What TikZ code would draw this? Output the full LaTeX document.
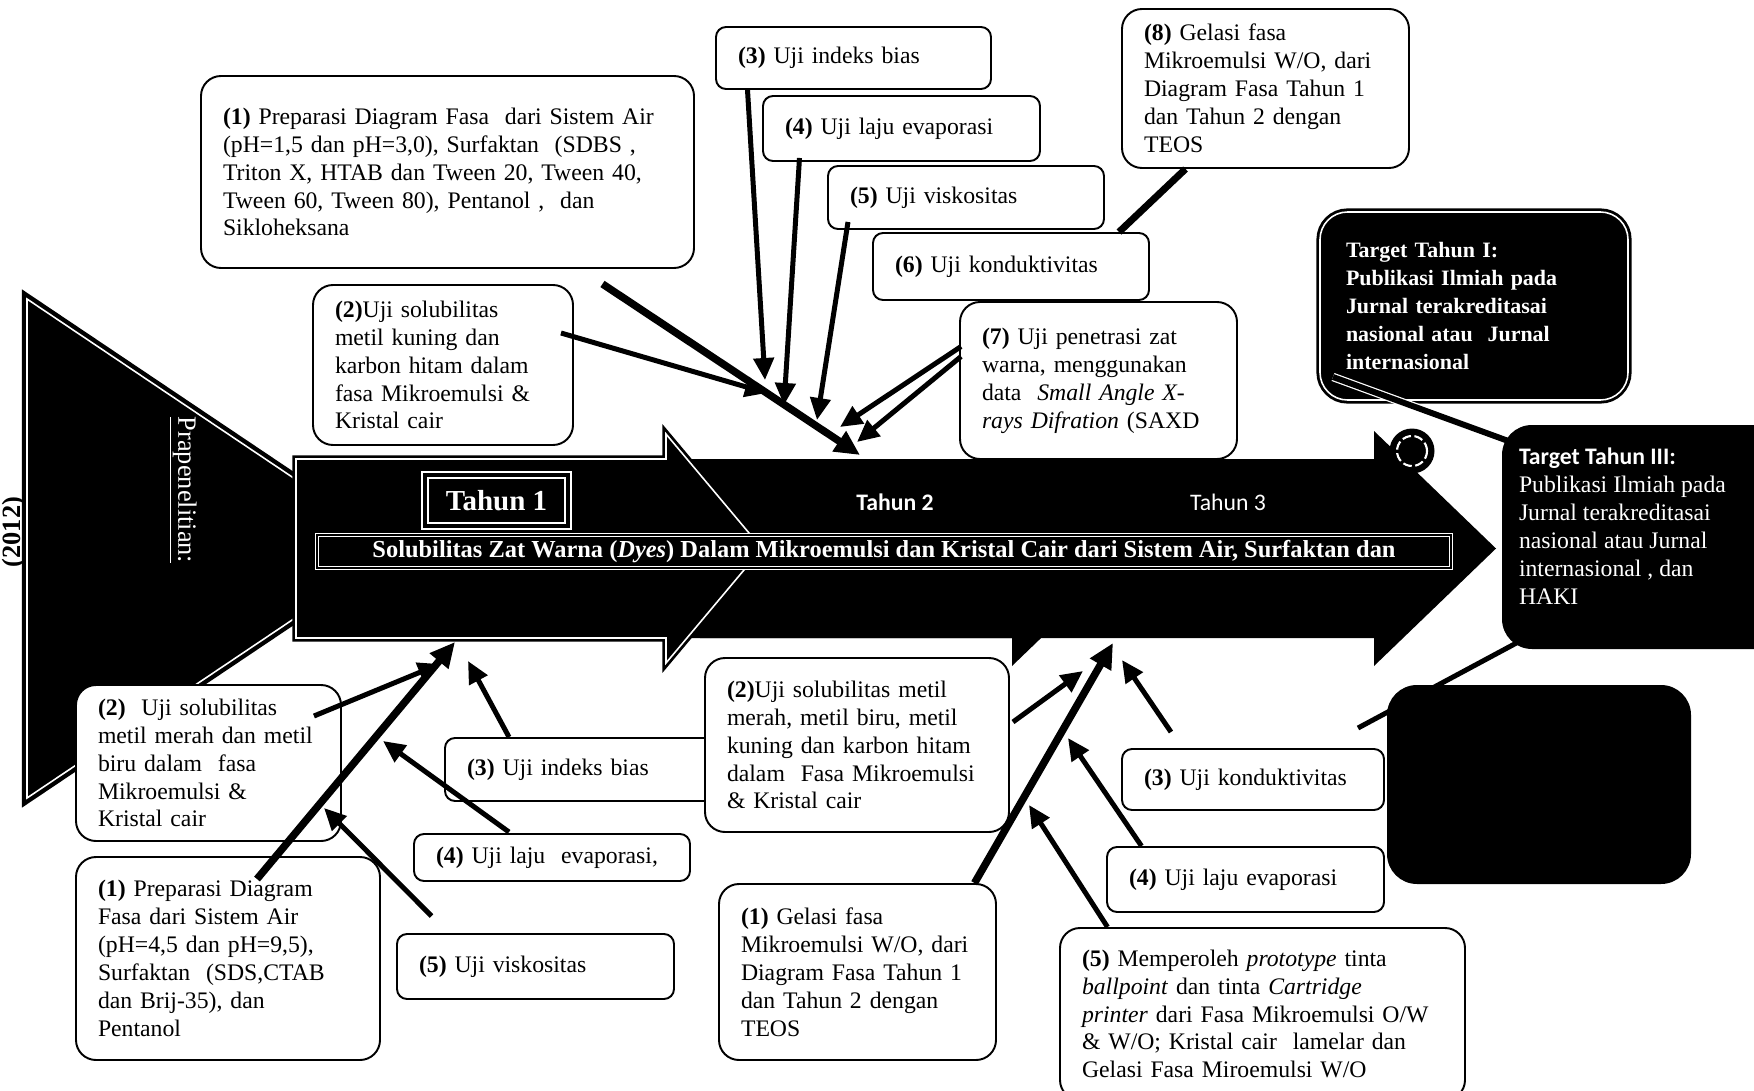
\documentclass[tikz,border=0pt]{standalone}
\usepackage{fontspec}
\setmainfont{Liberation Serif}
\newfontfamily\sanscal{Carlito}
\usepackage{tikz}
\usetikzlibrary{arrows.meta,calc}

\tikzset{
  kotak/.style={draw, line width=1.1pt, fill=white, rounded corners=0.4cm, align=left,
    inner xsep=0.44cm, inner ysep=0.1cm, font=\fontsize{13.5}{15.9}\selectfont},
  kecil/.style={kotak, rounded corners=0.2cm},
  ukuran/.style 2 args={minimum width=#1*0.02cm, minimum height=#2*0.02cm, text width={(#1-44)*0.02cm}},
  panah/.style={line width=0.1cm, -{Triangle[length=0.44cm,width=0.4cm]}},
  panahtebal/.style={line width=0.15cm, -{Triangle[length=0.5cm,width=0.46cm]}},
  tepiputih/.style={fill=black, draw=black, double=white, double distance=0.9pt, line width=1.6pt},
}

\begin{document}
\begin{tikzpicture}[x=0.02cm, y=-0.02cm]
\useasboundingbox (0,0) rectangle (1754,1091);
%ukuran dalam piksel gambar asli (1754 x 1091), sumbu y ke bawah
  \pgfmathsetmacro{\atas}{459}
  \pgfmathsetmacro{\bawah}{638}
  \pgfmathsetmacro{\tengah}{(\atas+\bawah)/2}

%Prapenelitian
\draw[tepiputih, line width=2.5pt] (27,299) -- (310,489) -- (310,608) -- (27,798) -- cycle;
\node[text=white, rotate=-90, font=\fontsize{15}{18}\selectfont] (prapen) at (183,490) {\underline{Prapenelitian:}};
\node[rotate=90, font=\bfseries\fontsize{15}{18}\selectfont] (thn0) at (14,532) {(2012)};

%panah tahun 3 dan tahun 2, lalu tahun 1 dengan garis putih
\foreach \kepala/\ujung/\ekor in {1374/1496/296, 1012/1134/700}{
\fill[black] (\ekor,\atas) -- (\kepala,\atas) -- (\kepala,431) -- (\ujung,\tengah) -- (\kepala,666) -- (\kepala,\bawah) -- (\ekor,\bawah) -- cycle;
}
\draw[tepiputih] (296,\atas) -- (666,\atas) -- (666,434) -- (762,\tengah) -- (666,663) -- (666,\bawah) -- (296,\bawah) -- cycle;

\node[draw=white, double=black, double distance=2pt, line width=1pt, minimum width=143*0.02cm, minimum height=51*0.02cm,
  text=white, font=\bfseries\fontsize{16.5}{18}\selectfont] (tahun1) at (496.5,500.5) {Tahun 1};
\node[text=white, font=\sanscal\bfseries\fontsize{13.5}{16}\selectfont] (tahun2) at (895,502) {Tahun 2};
\node[text=white, font=\sanscal\fontsize{13.5}{16}\selectfont] (tahun3) at (1228,502) {Tahun 3};
\node[fill=black, draw=white, double=black, double distance=1.2pt, line width=0.8pt, minimum width=1134*0.02cm, minimum height=33*0.02cm,
  inner sep=0pt, text=white, font=\bfseries\fontsize{13.9}{15}\selectfont] (judul) at (884,551.5)
  {Solubilitas Zat Warna (\textit{Dyes}) Dalam Mikroemulsi dan Kristal Cair dari Sistem Air, Surfaktan dan};
\node[circle, fill=black, minimum size=0.9cm, inner sep=0pt] (bulat) at (1412,451) {};
\draw[white, line width=1.2pt, dash pattern=on 5pt off 2pt] (bulat.center) circle [radius=0.3cm];

%kotak atas
\node[kotak, ukuran={493}{192}] (t1) at (447.5,172) {\textbf{(1)} Preparasi Diagram Fasa~ dari Sistem Air\\
  (pH=1,5 dan pH=3,0), Surfaktan~ (SDBS ,\\ Triton X, HTAB dan Tween 20, Tween 40,\\
  Tween 60, Tween 80), Pentanol ,~ dan\\ Sikloheksana};
\node[kotak, ukuran={260}{160}] (t2) at (443,365) {\textbf{(2)}Uji solubilitas\\ metil kuning dan\\
  karbon hitam dalam\\ fasa Mikroemulsi \&\\ Kristal cair};
\node[kecil, ukuran={275}{62}] (t3) at (853.5,58) {\textbf{(3)} Uji indeks bias};
\node[kecil, ukuran={277}{65}] (t4) at (901.5,128.5) {\textbf{(4)} Uji laju evaporasi};
\node[kecil, ukuran={276}{63}] (t5) at (966,197.5) {\textbf{(5)} Uji viskositas};
\node[kecil, ukuran={276}{67}] (t6) at (1011,266.5) {\textbf{(6)} Uji konduktivitas};
\node[kotak, ukuran={277}{157}] (t7) at (1098.5,380.5) {\textbf{(7)} Uji penetrasi zat\\ warna, menggunakan\\
  data~ \textit{Small Angle X-}\\ \textit{rays Difration} (SAXD};
\node[kotak, ukuran={287}{159}] (t8) at (1265.5,88.5) {\textbf{(8)} Gelasi fasa\\ Mikroemulsi W/O, dari\\
  Diagram Fasa Tahun 1\\ dan Tahun 2 dengan\\ TEOS};

%kotak bawah
\node[kotak, ukuran={265}{156}] (b2) at (208.5,763) {\textbf{(2)}~ Uji solubilitas\\ metil merah dan metil\\
  biru dalam~ fasa\\ Mikroemulsi \&\\ Kristal cair};
\node[kotak, ukuran={304}{203}] (b1) at (228,958.5) {\textbf{(1)} Preparasi Diagram\\ Fasa dari Sistem Air\\
  (pH=4,5 dan pH=9,5),\\ Surfaktan~ (SDS,CTAB\\ dan Brij-35), dan\\ Pentanol};
\node[kecil, ukuran={282}{63}] (b3) at (586,769.5) {\textbf{(3)} Uji indeks bias};
\node[kecil, ukuran={276}{47}] (b4) at (552,857.5) {\textbf{(4)} Uji laju~ evaporasi,};
\node[kecil, ukuran={277}{65}] (b5) at (535.5,966.5) {\textbf{(5)} Uji viskositas};
\node[kotak, ukuran={304}{174}] (b2b) at (857,745) {\textbf{(2)}Uji solubilitas metil\\ merah, metil biru, metil\\
  kuning dan karbon hitam\\ dalam~ Fasa Mikroemulsi\\ \& Kristal cair};
\node[kotak, ukuran={277}{176}] (b1b) at (857.5,972) {\textbf{(1)} Gelasi fasa\\ Mikroemulsi W/O, dari\\
  Diagram Fasa Tahun 1\\ dan Tahun 2 dengan\\ TEOS};
\node[kecil, ukuran={262}{61}] (b3b) at (1253,779.5) {\textbf{(3)} Uji konduktivitas};
\node[kecil, ukuran={277}{65}] (b4b) at (1245.5,879.5) {\textbf{(4)} Uji laju evaporasi};
\node[kotak, ukuran={405}{172}] (b5b) at (1262.5,1014) {\textbf{(5)} Memperoleh \textit{prototype} tinta\\
  \textit{ballpoint} dan tinta \textit{Cartridge}\\ \textit{printer} dari Fasa Mikroemulsi O/W\\
  \& W/O; Kristal cair~ lamelar dan\\ Gelasi Fasa Miroemulsi W/O};

%ujung panah pada panah utama
\coordinate (uA) at (860,455);
\coordinate (uB) at (767,393);
\coordinate (uC) at (765,380);
\coordinate (uD) at (784,405);
\coordinate (uE) at (817,420);
\coordinate (uF) at (840,427);
\coordinate (uG) at (857,442);
\coordinate (vA) at (455,642);
\coordinate (vB) at (440,664);
\coordinate (vC) at (468,661);
\coordinate (vD) at (383,741);
\coordinate (vE) at (324,808);
\coordinate (wA) at (1113,643);
\coordinate (wB) at (1083,671);
\coordinate (wC) at (1122,660);
\coordinate (wD) at (1068,738);
\coordinate (wE) at (1029,805);

\draw[panahtebal] ($(t1.south)+(155,15)$) -- (uA);
\draw[panah] ($(t2.east)+(-13,-32)$) -- (uB);
\draw[panah] ($(t3.south)+(-106,0)$) -- (uC);
\draw[panah] ($(t4.south)+(-102,-4)$) -- (uD);
\draw[panah] ($(t5.south)+(-118,-8)$) -- (uE);
\draw[panah] ($(t7.west)+(2,-34)$) -- (uF);
\draw[panah] ($(t7.west)+(2,-24)$) -- (uG);
\draw[line width=0.14cm] ($(t8.south)+(-80,0)$) -- ($(t6.north)+(108,0)$);

\draw[panahtebal] ($(b1.north)+(29,23)$) -- (vA);
\draw[panah] ($(b2.east)+(-28,-47)$) -- (vB);
\draw[panah] ($(b3.north)+(-77,0)$) -- (vC);
\draw[panah] ($(b4.north)+(-43,-1)$) -- (vD);
\draw[panah] ($(b5.north)+(-104,-17)$) -- (vE);
\draw[panahtebal] ($(b1b.north)+(117,0)$) -- (wA);
\draw[panah] ($(b2b.east)+(3,-23)$) -- (wB);
\draw[panah] ($(b3b.north)+(-82,-16)$) -- (wC);
\draw[panah] ($(b4b.north)+(-104,0)$) -- (wD);
\draw[panah] ($(b5b.north)+(-155,0)$) -- (wE);

%target
\node[tepiputih, rounded corners=0.55cm, minimum width=308*0.02cm, minimum height=188*0.02cm, text width={(308-52)*0.02cm},
  inner xsep=0.52cm, align=left, text=white, font=\bfseries\fontsize{12.5}{15.9}\selectfont] (tI) at (1474,306)
  {Target Tahun I:\\ Publikasi Ilmiah pada\\ Jurnal terakreditasai\\ nasional atau~ Jurnal\\ internasional};

%garis penghubung ke target III (di bawah kotak hitam)
\coordinate (pangkal) at (1333,377);
\coordinate (ujungIII) at (1522,446);
\coordinate (ekor) at (1358,728);
\coordinate (ujungbawah) at (1522,640);
\draw[white, line width=0.7pt, double=black, double distance=0.12cm] (pangkal) -- (ujungIII);
\draw[line width=0.1cm] (ekor) -- (ujungbawah);

\node[fill=black, rounded corners=0.6cm, minimum width=298*0.02cm, minimum height=224*0.02cm] (tIII) at (1651,537) {};
\node[anchor=north west, align=left, text=white, inner sep=0pt, font=\fontsize{13.5}{15.9}\selectfont] (teksIII)
  at ($(tIII.north west)+(17,23)$) {{\sanscal\bfseries Target Tahun III:}\\ Publikasi Ilmiah pada\\
  Jurnal terakreditasai\\ nasional atau Jurnal\\ internasional , dan\\ HAKI};
\node[fill=black, rounded corners=0.6cm, minimum width=304*0.02cm, minimum height=199*0.02cm] (hitam) at (1539,784.5) {};
\end{tikzpicture}
\end{document}
